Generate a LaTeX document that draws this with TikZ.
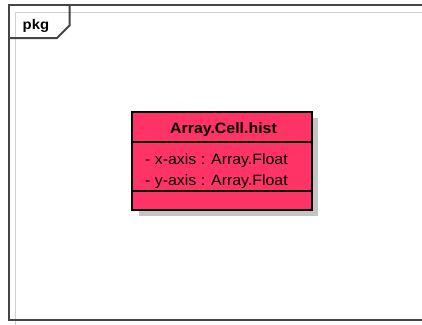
\documentclass[tikz,border=0pt]{standalone}
\usepackage{fontspec}
\usepackage{graphicx}
\setmainfont{Liberation Sans}
\definecolor{clsfill}{HTML}{FF3366}
\definecolor{frmdark}{HTML}{454545}
\definecolor{frmlight}{HTML}{D0D0D0}
\definecolor{shadowgray}{HTML}{C4C4C4}
\tikzset{
  frame/.style={draw=frmdark, line width=2bp},
  innerframe/.style={draw=frmlight, line width=1.5bp},
  classbox/.style={draw=black, line width=2.2bp, fill=clsfill},
  sep/.style={draw=black, line width=2bp},
  shadowbox/.style={fill=shadowgray, draw=none},
  hdr/.style={font=\fontsize{15bp}{17bp}\selectfont\bfseries, inner sep=0pt, anchor=base},
  attr/.style={font=\fontsize{15bp}{17bp}\selectfont, inner sep=0pt, anchor=base west},
  tabtext/.style={font=\fontsize{14bp}{16bp}\selectfont\bfseries, inner sep=0pt, anchor=base west}
}
\newcommand{\wide}[1]{\scalebox{1.06}[1]{#1}}
\begin{document}
\begin{tikzpicture}[x=1bp,y=-1bp]
  \useasboundingbox (0,0) rectangle (422,325);
  \fill[white] (0,0) rectangle (422,325);
  % package frame
  \draw[innerframe] (15.3,325) -- (15.3,12.3) -- (422,12.3);
  \draw[frame] (430,320) -- (9.3,320) -- (9.3,5) -- (430,5);
  \draw[frame] (9.3,38) -- (57,38) -- (69.5,25.5) -- (69.5,5);
  \node[tabtext] (pkg) at (22.5,29.5) {\wide{pkg}};
  % class shadow
  \fill[shadowbox] (139,118) rectangle (318,216);
  % class box
  \draw[classbox] (132,112) rectangle (312,210);
  \coordinate (s1l) at (132,142);
  \coordinate (s1r) at (312,142);
  \coordinate (s2l) at (132,191);
  \coordinate (s2r) at (312,191);
  \draw[sep] (s1l) -- (s1r);
  \draw[sep] (s2l) -- (s2r);
  \node[hdr] (title) at (223.5,133.2) {\wide{Array.Cell.hist}};
  \node[attr] (a1) at (145,164.5) {\wide{- x-axis : Array.Float}};
  \node[attr] (a2) at (145,185) {\wide{- y-axis : Array.Float}};
\end{tikzpicture}
\end{document}
